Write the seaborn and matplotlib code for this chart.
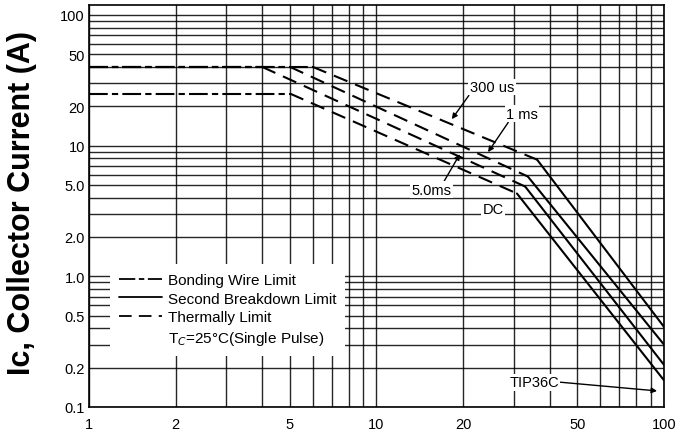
import matplotlib
matplotlib.use("Agg")
import numpy as np
import pandas as pd
import seaborn as sns
from matplotlib import pyplot as plt
from matplotlib.lines import Line2D
from matplotlib.ticker import FixedLocator, NullFormatter

# Safe operating area, TIP36C
curve_names = ["300 us", "1 ms", "5.0ms", "DC"]

# bonding wire limit: flat part
bond_v_start = [1, 1, 1, 1]
bond_v_end = [6, 5, 4, 5]
bond_i = [40, 40, 40, 25]

# thermal limit ends / second breakdown starts here
knee_v = [36.2, 33.6, 32.9, 30.8]
knee_i = [7.8, 5.8, 4.86, 4.3]

# second breakdown limit ends at the right edge
end_v = [100, 100, 100, 100]
end_i = [0.41, 0.30, 0.21, 0.16]

x_ticks = [1, 2, 5, 10, 20, 50, 100]
x_labels = ["1", "2", "5", "10", "20", "50", "100"]
y_ticks = [0.1, 0.2, 0.5, 1, 2, 5, 10, 20, 50, 100]
y_labels = ["0.1", "0.2", "0.5", "1.0", "2.0", "5.0", "10", "20", "50", "100"]

BOND_STYLE = (0, (9, 2, 3, 2))
THERM_STYLE = (0, (7, 4))
SB_STYLE = "-"


def build_segments():
    rows = []
    for k, name in enumerate(curve_names):
        segs = [
            ("bond", [bond_v_start[k], bond_v_end[k]], [bond_i[k], bond_i[k]]),
            ("therm", [bond_v_end[k], knee_v[k]], [bond_i[k], knee_i[k]]),
            ("sb", [knee_v[k], end_v[k]], [knee_i[k], end_i[k]]),
        ]
        for seg, vs, cs in segs:
            for v, c in zip(vs, cs):
                rows.append({"curve": name, "seg": seg, "V": v, "I": c})
    return pd.DataFrame(rows)


def main():
    sns.set_style("white")
    plt.rcParams["font.family"] = ["Liberation Sans", "DejaVu Sans"]
    plt.rcParams["text.color"] = "black"

    df = build_segments()

    fig = plt.figure(figsize=(6.91, 4.31), dpi=100)
    ax = fig.add_axes([89 / 691, 1 - 408 / 431, 575 / 691, 402 / 431])
    ax.set_xscale("log")
    ax.set_yscale("log")
    ax.set_xlim(1, 100)
    ax.set_ylim(0.1, 119)

    styles = {"bond": BOND_STYLE, "therm": THERM_STYLE, "sb": SB_STYLE}
    for (name, seg), sub in df.groupby(["curve", "seg"], sort=False):
        sns.lineplot(
            data=sub, x="V", y="I", ax=ax, color="black", linewidth=1.5,
            linestyle=styles[seg], sort=False, estimator=None, zorder=3,
        )

    # grid like printed log paper
    ax.xaxis.set_major_locator(FixedLocator(x_ticks))
    ax.set_xticklabels(x_labels)
    ax.yaxis.set_major_locator(FixedLocator(y_ticks))
    ax.set_yticklabels(y_labels)
    ax.xaxis.set_minor_locator(FixedLocator([m * d for d in [1, 10] for m in range(2, 10)]))
    ax.yaxis.set_minor_locator(FixedLocator([m * d for d in [0.1, 1, 10] for m in range(2, 10)]))
    ax.xaxis.set_minor_formatter(NullFormatter())
    ax.yaxis.set_minor_formatter(NullFormatter())
    ax.grid(which="both", color="black", linewidth=1.0, alpha=0.85, zorder=1)
    ax.set_axisbelow(True)
    ax.tick_params(which="both", length=0, labelsize=10.5, colors="black")
    ax.tick_params(axis="x", pad=7)
    ax.tick_params(axis="y", pad=3)
    for s in ax.spines.values():
        s.set_color("black")
        s.set_linewidth(1.2)
    ax.set_xlabel("")
    ax.set_ylabel("")

    fig.text(22 / 691, 1 - 203 / 431, "Ic, Collector Current (A)", rotation=90,
             fontsize=22, fontweight="bold", ha="center", va="center",
             color="black")

    box = dict(facecolor="white", edgecolor="none", pad=1)
    arrow = dict(arrowstyle="-|>", color="black", lw=1.0, mutation_scale=8,
                 shrinkA=0, shrinkB=0)
    ax.annotate("300 us", xy=(0.631, 0.716), xytext=(0.701, 0.796),
                xycoords="axes fraction", textcoords="axes fraction",
                ha="center", va="center", fontsize=10.5, bbox=box, zorder=5,
                arrowprops=dict(arrow, relpos=(0.0, 0.0)))
    ax.annotate("1 ms", xy=(0.694, 0.634), xytext=(0.753, 0.729),
                xycoords="axes fraction", textcoords="axes fraction",
                ha="center", va="center", fontsize=10.5, bbox=box, zorder=5,
                arrowprops=dict(arrow, relpos=(0.1, 0.0)))
    ax.annotate("5.0ms", xy=(0.645, 0.629), xytext=(0.595, 0.540),
                xycoords="axes fraction", textcoords="axes fraction",
                ha="center", va="center", fontsize=10.5, bbox=box, zorder=5,
                arrowprops=dict(arrow, relpos=(0.8, 1.0)))
    ax.text(0.703, 0.4925, "DC", transform=ax.transAxes, ha="center",
            va="center", fontsize=10.5, bbox=box, zorder=5)
    ax.annotate("TIP36C", xy=(0.988, 0.040), xytext=(0.774, 0.062),
                xycoords="axes fraction", textcoords="axes fraction",
                ha="center", va="center", fontsize=10.5, bbox=box, zorder=5,
                arrowprops=dict(arrow, relpos=(1.0, 0.5)))

    handles = [
        Line2D([], [], color="black", lw=1.3, linestyle=BOND_STYLE),
        Line2D([], [], color="black", lw=1.3, linestyle=SB_STYLE),
        Line2D([], [], color="black", lw=1.3, linestyle=THERM_STYLE),
        Line2D([], [], color="none"),
    ]
    labels = ["Bonding Wire Limit", "Second Breakdown Limit", "Thermally Limit",
              "T$_C$=25°C(Single Pulse)"]
    leg = ax.legend(handles, labels, loc="upper left",
                    bbox_to_anchor=(0.036, 0.356), fontsize=11,
                    frameon=True, facecolor="white", edgecolor="none",
                    framealpha=1, fancybox=False, handlelength=2.8,
                    handletextpad=0.4, labelspacing=0.3, borderpad=0.6,
                    borderaxespad=0)
    leg.set_zorder(6)

    fig.savefig("out.png", dpi=100)


if __name__ == "__main__":
    main()
